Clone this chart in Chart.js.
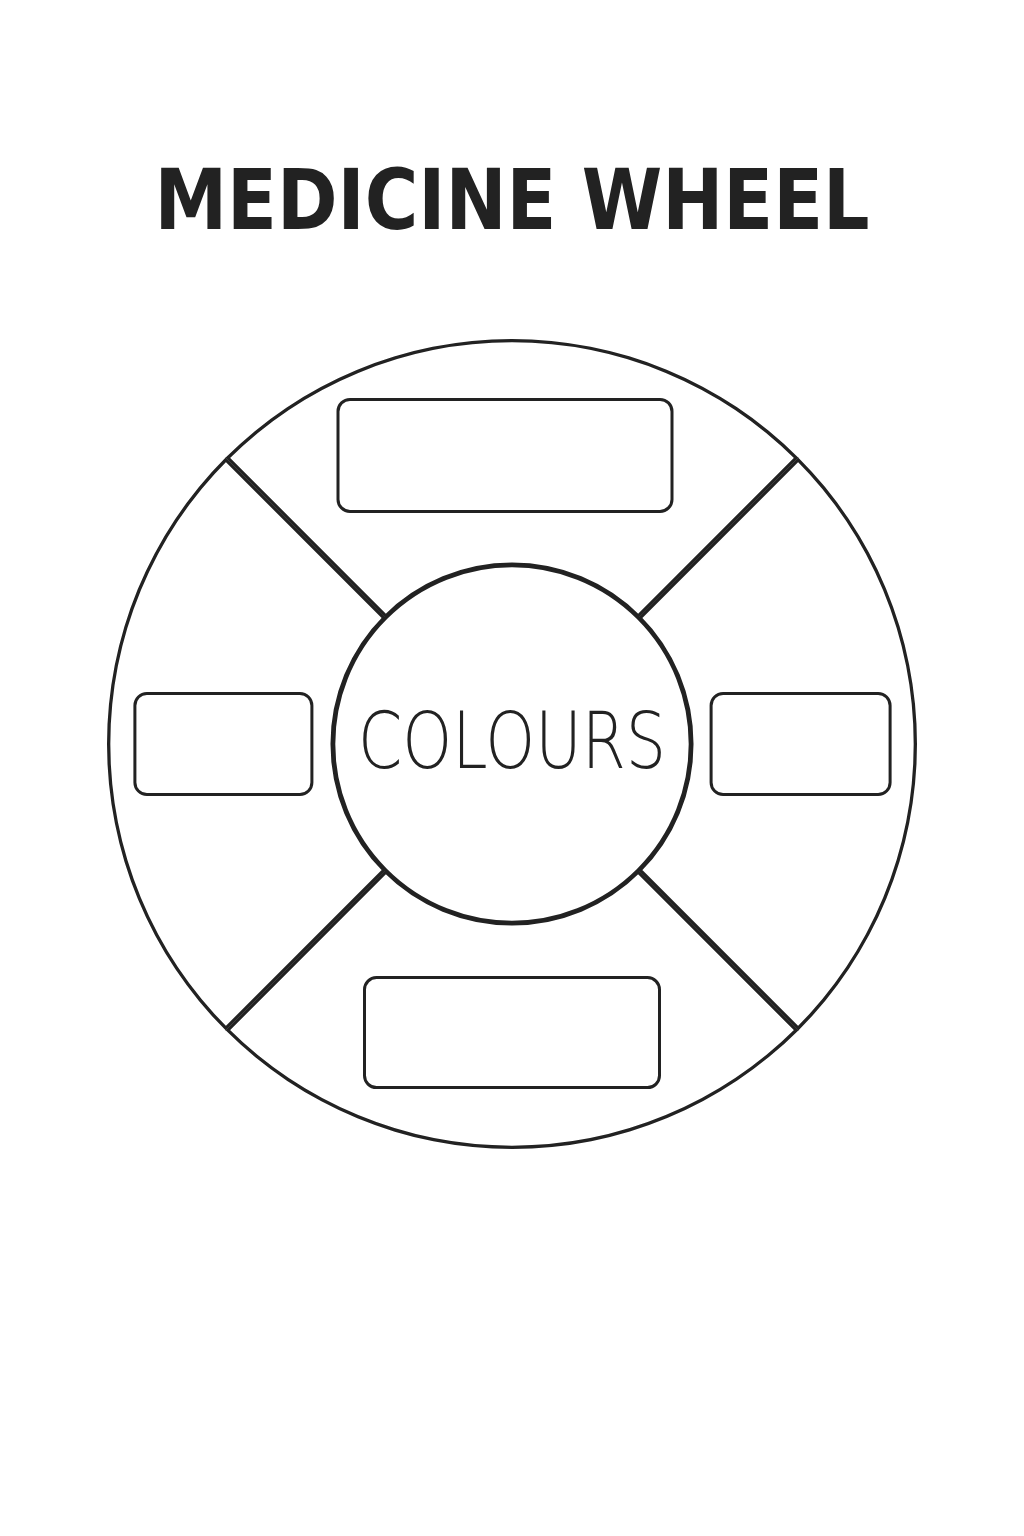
<!DOCTYPE html>
<html lang="en">
<head>
<meta charset="UTF-8">
<title>Medicine Wheel</title>
<style>
  body { margin: 0; background: #fff; }
  #wrap { width: 1024px; height: 1536px; position: relative; }
</style>
</head>
<body>
<div id="wrap"><canvas id="wheel"></canvas></div>
<script src="https://cdn.jsdelivr.net/npm/chart.js"></script>
<script>
const title = 'MEDICINE WHEEL';
const centerLabel = 'COLOURS';
const categories = ['WHITE', 'YELLOW', 'RED', 'BLACK'];
const values = [1, 1, 1, 1];
const boxSizes = [[334, 112], [179, 101], [295, 110], [177, 101]];
const textWidths = [263, 164, 158, 155];

const ink = '#222';

// draws text as a row of dots by masking filled glyphs with a dot grid
function dottedText(ctx, text, x, y, fontSize, targetW) {
  const dpr = window.devicePixelRatio || 1;
  const W = Math.ceil(targetW + 40), H = Math.ceil(fontSize * 1.4);
  const off = document.createElement('canvas');
  off.width = W * dpr; off.height = H * dpr;
  const o = off.getContext('2d');
  o.scale(dpr, dpr);
  o.font = '200 ' + fontSize + 'px "DejaVu Sans"';
  o.textAlign = 'center';
  o.textBaseline = 'middle';
  const tw = o.measureText(text).width;
  o.save();
  o.translate(W / 2, H / 2);
  o.scale(targetW / tw, 1);
  o.fillStyle = ink;
  o.fillText(text, 0, 0);
  o.restore();
  o.globalCompositeOperation = 'destination-in';
  o.fillStyle = '#000';
  for (let gy = 0; gy < H; gy += 8) {
    for (let gx = 0; gx < W; gx += 8) {
      o.beginPath();
      o.arc(gx + 4, gy + 4, 2.6, 0, Math.PI * 2);
      o.fill();
    }
  }
  ctx.drawImage(off, x - W / 2, y - H / 2, W, H);
}

const wheelLabels = {
  id: 'wheelLabels',
  afterDraw(chart) {
    const ctx = chart.ctx;
    const meta = chart.getDatasetMeta(0);
    const arc0 = meta.data[0];
    const cx = arc0.x, cy = arc0.y;
    const inner = arc0.innerRadius, outer = arc0.outerRadius;

    ctx.save();
    ctx.fillStyle = ink;
    ctx.font = 'bold 84px "DejaVu Sans"';
    ctx.textAlign = 'center';
    ctx.textBaseline = 'middle';
    let w = ctx.measureText(title).width;
    ctx.save();
    ctx.translate(512, 207);
    ctx.scale(715 / w, 1);
    ctx.fillText(title, 0, 0);
    ctx.restore();

    ctx.strokeStyle = ink;
    ctx.lineWidth = 3;
    ctx.beginPath();
    ctx.arc(cx, cy, inner, 0, Math.PI * 2);
    ctx.stroke();

    ctx.font = '300 78px "DejaVu Sans"';
    w = ctx.measureText(centerLabel).width;
    ctx.save();
    ctx.translate(cx, cy + 4);
    ctx.scale(308 / w, 1);
    ctx.fillText(centerLabel, 0, 0);
    ctx.restore();

    const r = (inner + outer) / 2 - 3;
    meta.data.forEach((arc, i) => {
      const mid = (arc.startAngle + arc.endAngle) / 2;
      let bx = cx + Math.cos(mid) * r;
      const by = cy + Math.sin(mid) * r;
      if (i === 0) bx -= 7;
      const [bw, bh] = boxSizes[i];
      ctx.lineWidth = 3;
      ctx.strokeStyle = ink;
      ctx.fillStyle = '#fff';
      ctx.beginPath();
      ctx.roundRect(bx - bw / 2, by - bh / 2, bw, bh, 12);
      ctx.fill();
      ctx.stroke();
      const fs = i === 1 || i === 3 ? 64 : 82;
      dottedText(ctx, categories[i], bx, by + 6, fs, textWidths[i]);
    });
    ctx.restore();
  }
};

new Chart(document.getElementById('wheel'), {
  type: 'doughnut',
  data: {
    labels: categories,
    datasets: [{
      data: values,
      backgroundColor: '#fff',
      borderColor: ink,
      borderWidth: 3,
      borderAlign: 'inner'
    }]
  },
  options: {
    responsive: true,
    maintainAspectRatio: false,
    animation: false,
    rotation: -45,
    cutout: '44%',
    layout: { padding: { left: 107, right: 107, top: 339, bottom: 387 } },
    plugins: { legend: { display: false }, tooltip: { enabled: false } }
  },
  plugins: [wheelLabels]
});
</script>
</body>
</html>
